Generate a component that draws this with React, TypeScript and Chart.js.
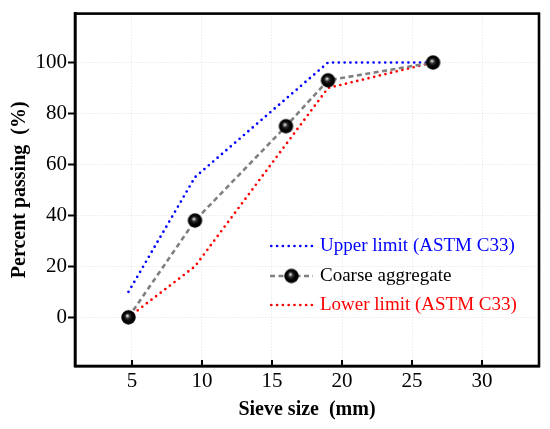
import React, { useEffect, useRef } from 'react';
import { Chart, registerables } from 'chart.js';

Chart.register(...registerables);

// ---- data ----
const sieveSizes = [4.75, 9.5, 16, 19, 26.5];
const coarsePassing = [0, 38, 75, 93, 100];
const limitSizes = [4.75, 9.5, 19, 26.5];
const upperLimit = [10, 55, 100, 100];
const lowerLimit = [0, 20, 90, 100];
const xTickValues = [5, 10, 15, 20, 25, 30];
const yTickValues = [0, 20, 40, 60, 80, 100];
const seriesNames = ['Coarse aggregate', 'Upper limit (ASTM C33)', 'Lower limit (ASTM C33)'];
const xTitle = 'Sieve size  (mm)';
const yTitle = 'Percent passing  (%)';

const SERIF = '"Liberation Serif", "Times New Roman", serif';

function makeSphere(r: number): HTMLCanvasElement {
  const c = document.createElement('canvas');
  const s = Math.ceil(r * 2 + 2);
  c.width = s;
  c.height = s;
  const g = c.getContext('2d')!;
  const cx = s / 2;
  const cy = s / 2;
  const grad = g.createRadialGradient(cx - r * 0.18, cy - r * 0.25, 0, cx, cy, r);
  grad.addColorStop(0, '#ffffff');
  grad.addColorStop(0.12, '#b8b8b8');
  grad.addColorStop(0.32, '#303030');
  grad.addColorStop(0.6, '#050505');
  grad.addColorStop(1, '#000000');
  g.fillStyle = grad;
  g.beginPath();
  g.arc(cx, cy, r, 0, Math.PI * 2);
  g.fill();
  return c;
}

const toXY = (xs: number[], ys: number[]) => xs.map((x, i) => ({ x, y: ys[i] }));

export default function App() {
  const ref = useRef<HTMLCanvasElement | null>(null);

  useEffect(() => {
    if (!ref.current) return;
    const sphere = makeSphere(7.2);

    const framePlugin = {
      id: 'frameAndTicks',
      afterDatasetsDraw(chart: any) {
        const { ctx, chartArea } = chart;
        const xs = chart.scales.x;
        ctx.save();
        ctx.strokeStyle = '#000';
        ctx.lineWidth = 2.6;
        ctx.setLineDash([]);
        ctx.strokeRect(chartArea.left, chartArea.top, chartArea.right - chartArea.left, chartArea.bottom - chartArea.top);
        ctx.lineWidth = 2;
        ctx.beginPath();
        xTickValues.forEach((v) => {
          const px = xs.getPixelForValue(v);
          ctx.moveTo(px, chartArea.bottom);
          ctx.lineTo(px, chartArea.bottom - 6);
        });
        ctx.stroke();
        ctx.restore();
      },
    };

    const legendPlugin = {
      id: 'insideLegend',
      afterDraw(chart: any) {
        const { ctx } = chart;
        const rows = [
          { ds: 1, y: 246, color: '#0000ff' },
          { ds: 0, y: 276, color: '#000000' },
          { ds: 2, y: 305, color: '#ff0000' },
        ];
        const x0 = 270;
        const x1 = 313;
        ctx.save();
        rows.forEach((r) => {
          const d: any = chart.data.datasets[r.ds];
          ctx.save();
          ctx.strokeStyle = d.borderColor;
          ctx.lineWidth = d.borderWidth;
          ctx.lineCap = d.borderCapStyle || 'butt';
          ctx.setLineDash(d.borderDash || []);
          ctx.beginPath();
          ctx.moveTo(x0 + (r.ds === 0 ? 0 : 1.3), r.y);
          ctx.lineTo(x1, r.y);
          ctx.stroke();
          ctx.restore();
          if (r.ds === 0) {
            ctx.drawImage(sphere, (x0 + x1) / 2 - sphere.width / 2, r.y - sphere.height / 2);
          }
          ctx.fillStyle = r.color;
          ctx.font = `19px ${SERIF}`;
          ctx.textBaseline = 'middle';
          ctx.textAlign = 'left';
          ctx.fillText(seriesNames[r.ds], 320, r.y);
        });
        ctx.restore();
      },
    };

    const gridOpts = {
      color: 'rgba(0,0,0,0.12)',
      lineWidth: 1,
      tickColor: '#000',
      tickWidth: 2,
      tickBorderDash: [],
    };

    const chart = new Chart(ref.current, {
      type: 'line',
      data: {
        datasets: [
          {
            label: seriesNames[0],
            data: toXY(sieveSizes, coarsePassing),
            borderColor: '#808080',
            borderWidth: 2.6,
            borderDash: [5, 3.5],
            pointStyle: sphere,
            pointRadius: 7,
            tension: 0,
            order: 0,
          },
          {
            label: seriesNames[1],
            data: toXY(limitSizes, upperLimit),
            borderColor: '#0000ff',
            borderWidth: 2.7,
            borderDash: [0, 5.8],
            borderCapStyle: 'round',
            pointRadius: 0,
            tension: 0,
            order: 1,
          },
          {
            label: seriesNames[2],
            data: toXY(limitSizes, lowerLimit),
            borderColor: '#ff0000',
            borderWidth: 2.7,
            borderDash: [0, 5.8],
            borderCapStyle: 'round',
            pointRadius: 0,
            tension: 0,
            order: 2,
          },
        ],
      },
      options: {
        animation: false,
        responsive: false,
        devicePixelRatio: 1,
        layout: { padding: { left: 0, top: 12, right: 11, bottom: 0 } },
        plugins: { legend: { display: false }, tooltip: { enabled: false } },
        scales: {
          x: {
            type: 'linear',
            min: 0.93,
            max: 34.07,
            afterBuildTicks: (s: any) => {
              s.ticks = xTickValues.map((v) => ({ value: v }));
            },
            afterFit: (s: any) => {
              s.height = 63;
            },
            ticks: {
              font: { family: SERIF, size: 21 },
              color: '#000',
              padding: 3,
              maxRotation: 0,
            },
            grid: { ...gridOpts, drawTicks: false },
            border: { display: true, color: '#000', width: 2.6, dash: [1, 2] },
            title: {
              display: true,
              text: xTitle,
              color: '#000',
              font: { family: SERIF, size: 20, weight: 'bold' },
              padding: { top: 0, bottom: 7 },
            },
          },
          y: {
            type: 'linear',
            min: -19.1,
            max: 119.2,
            afterBuildTicks: (s: any) => {
              s.ticks = yTickValues.map((v) => ({ value: v }));
            },
            afterFit: (s: any) => {
              s.width = 75;
            },
            ticks: {
              font: { family: SERIF, size: 21 },
              color: '#000',
              padding: 1,
            },
            grid: { ...gridOpts, drawTicks: true, tickLength: 7 },
            border: { display: true, color: '#000', width: 2.6, dash: [1, 2] },
            title: {
              display: true,
              text: yTitle,
              color: '#000',
              font: { family: SERIF, size: 20, weight: 'bold' },
              padding: { top: 8, bottom: 0 },
            },
          },
        },
      } as any,
      plugins: [framePlugin, legendPlugin],
    });
    return () => chart.destroy();
  }, []);

  return (
    <div style={{ position: 'fixed', left: 0, top: 0, width: 550, height: 429, background: '#fff' }}>
      <canvas ref={ref} width={550} height={429} />
    </div>
  );
}
